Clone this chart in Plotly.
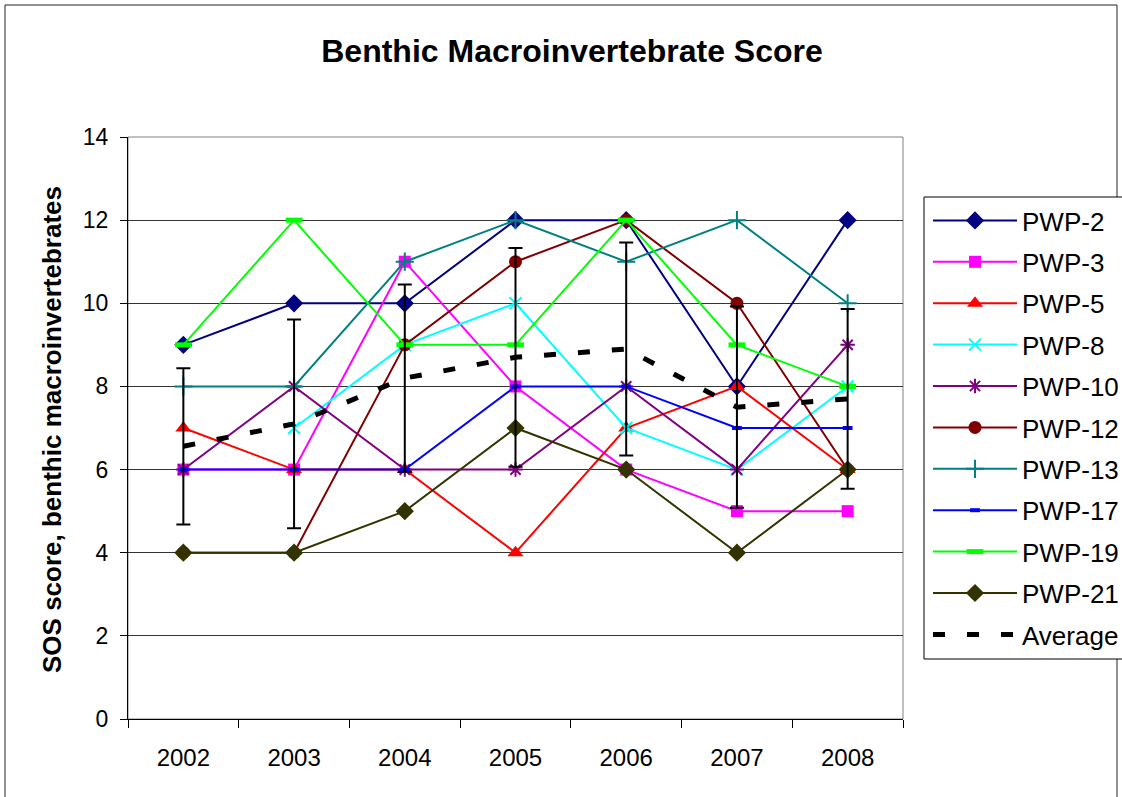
import plotly.graph_objects as go

years = ["2002", "2003", "2004", "2005", "2006", "2007", "2008"]

pwp_2 = [9, 10, 10, 12, 12, 8, 12]
pwp_3 = [6, 6, 11, 8, 6, 5, 5]
pwp_5 = [7, 6, 6, 4, 7, 8, 6]
pwp_8 = [None, 7, 9, 10, 7, 6, 8]
pwp_10 = [6, 8, 6, 6, 8, 6, 9]
pwp_12 = [4, 4, 9, 11, 12, 10, 6]
pwp_13 = [8, 8, 11, 12, 11, 12, 10]
pwp_17 = [6, 6, 6, 8, 8, 7, 7]
pwp_19 = [9, 12, 9, 9, 12, 9, 8]
pwp_21 = [4, 4, 5, 7, 6, 4, 6]
average = [6.56, 7.1, 8.2, 8.7, 8.9, 7.5, 7.7]
average_sd = [1.88, 2.51, 2.25, 2.63, 2.56, 2.42, 2.16]

FONT = "Arial, Liberation Sans, sans-serif"

series = [
    ("PWP-2", pwp_2, "#000080", "diamond", 14, 0),
    ("PWP-3", pwp_3, "#FF00FF", "square", 12, 0),
    ("PWP-5", pwp_5, "#FF0000", "triangle-up", 14, 0),
    ("PWP-8", pwp_8, "#00FFFF", "x-thin-open", 12, 2),
    ("PWP-10", pwp_10, "#800080", "asterisk-open", 12, 2),
    ("PWP-12", pwp_12, "#800000", "circle", 13, 0),
    ("PWP-13", pwp_13, "#008080", "cross-thin-open", 13, 2),
    ("PWP-17", pwp_17, "#0000FF", "line-ew-open", 7, 4),
    ("PWP-19", pwp_19, "#00FF00", "line-ew-open", 12, 5),
    ("PWP-21", pwp_21, "#333300", "diamond", 14, 0),
]

fig = go.Figure()
for name, vals, color, sym, size, mlw in series:
    fig.add_trace(go.Scatter(
        x=years, y=vals, name=name, legendgroup=name,
        mode="lines+markers",
        line=dict(color=color, width=2),
        marker=dict(symbol=sym, size=size, color=color,
                    line=dict(color=color, width=mlw)),
    ))

fig.add_trace(go.Scatter(
    x=years, y=average, name="Average", legendgroup="Average",
    mode="lines",
    line=dict(color="black", width=5, dash="12px,22px"),
    error_y=dict(type="data", array=average_sd, visible=True,
                 color="black", thickness=2, width=7),
))

L, T, PW, PH = 128, 137, 775, 582


def px(xp):
    return (xp - L) / PW


def py(yp):
    return (T + PH - yp) / PH


fig.update_layout(
    width=1122, height=797,
    margin=dict(l=L, r=1122 - L - PW, t=T, b=797 - T - PH, autoexpand=False),
    paper_bgcolor="white", plot_bgcolor="white",
    font=dict(family=FONT, color="black"),
    title=dict(text="<b>Benthic Macroinvertebrate Score</b>",
               font=dict(size=32, family=FONT, color="black"),
               x=572 / 1122, xanchor="center", y=1 - 51 / 797, yanchor="middle"),
    showlegend=True,
    legend=dict(x=px(928), y=py(197), xanchor="left", yanchor="top",
                borderwidth=0, bgcolor="rgba(255,255,255,0)",
                font=dict(size=26, family=FONT, color="black"),
                itemwidth=84, tracegroupgap=4.6, traceorder="grouped"),
    xaxis=dict(type="category", range=[-0.5, 6.5], tickson="boundaries",
               ticks="outside", ticklen=8, tickcolor="black",
               showgrid=False, showline=True, linecolor="black", linewidth=1,
               tickfont=dict(size=24, family=FONT), ticklabelstandoff=17),
    yaxis=dict(range=[0, 14], dtick=2, ticks="outside", ticklen=7, tickcolor="black",
               showgrid=True, gridcolor="#333333", gridwidth=1, zeroline=False,
               showline=True, linecolor="black", linewidth=1,
               tickfont=dict(size=23, family=FONT), ticklabelstandoff=7),
    annotations=[dict(text="<b>SOS score, benthic macroinvertebrates</b>",
                      xref="paper", yref="paper", x=px(52), y=py(430),
                      xanchor="center", yanchor="middle", textangle=-90, showarrow=False,
                      font=dict(size=26, family=FONT, color="black"))],
    shapes=[
        dict(type="rect", xref="paper", yref="paper", x0=0, x1=1, y0=0, y1=1,
             line=dict(color="#808080", width=1), layer="below"),
        dict(type="rect", xref="paper", yref="paper",
             x0=px(5), x1=px(1117), y0=py(815), y1=py(5),
             line=dict(color="#222222", width=1), layer="below"),
        dict(type="rect", xref="paper", yref="paper",
             x0=px(924), x1=px(1135), y0=py(659), y1=py(197),
             line=dict(color="black", width=1), fillcolor="white", layer="below"),
    ],
)

fig.write_html("out.html", config={"displayModeBar": False},
               post_script="document.body.style.margin='0';")
